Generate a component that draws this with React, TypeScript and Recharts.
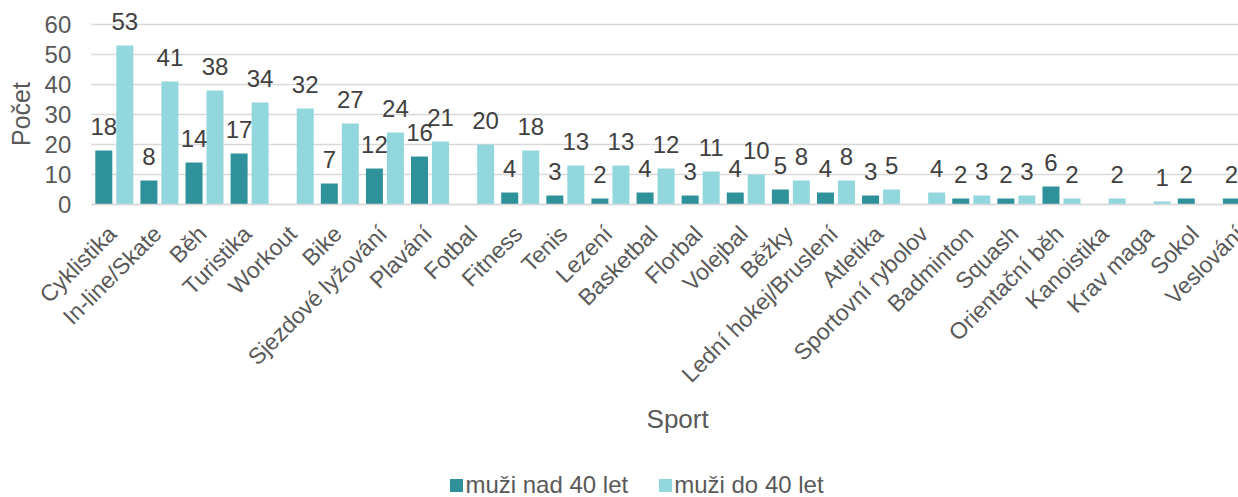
import React from 'react';
import { BarChart, Bar, XAxis, YAxis, CartesianGrid, Legend, LabelList, Label } from 'recharts';

const categories = [
  'Cyklistika', 'In-line/Skate', 'Běh', 'Turistika', 'Workout', 'Bike', 'Sjezdové lyžování', 'Plavání',
  'Fotbal', 'Fitness', 'Tenis', 'Lezení', 'Basketbal', 'Florbal', 'Volejbal', 'Běžky',
  'Lední hokej/Bruslení', 'Atletika', 'Sportovní rybolov', 'Badminton', 'Squash', 'Orientační běh',
  'Kanoistika', 'Krav maga', 'Sokol', 'Veslování',
];

// muži nad 40 let (null = no bar)
const over40 = [18, 8, 14, 17, null, 7, 12, 16, null, 4, 3, 2, 4, 3, 4, 5, 4, 3, null, 2, 2, 6, null, null, 2, 2];
// muži do 40 let
const under40 = [53, 41, 38, 34, 32, 27, 24, 21, 20, 18, 13, 13, 12, 11, 10, 8, 8, 5, 4, 3, 3, 2, 2, 1, null, null];

const yTicks = [0, 10, 20, 30, 40, 50, 60];

const series = [
  { key: 'over40', name: 'muži nad 40 let', color: '#2f9199' },
  { key: 'under40', name: 'muži do 40 let', color: '#93d7de' },
];

const data = categories.map((sport, i) => ({ sport, over40: over40[i], under40: under40[i] }));

const FONT = '"Liberation Sans", Arial, sans-serif';
const TEXT = '#595959';

const CategoryTick = (props: any) => {
  const { x, y, payload } = props;
  return (
    <g transform={`translate(${x + 4},${y + 23}) rotate(-45)`}>
      <text x={0} y={0} textAnchor="end" fill={TEXT} fontSize={23} fontFamily={FONT}>
        {payload.value}
      </text>
    </g>
  );
};

const ValueLabel = (props: any) => {
  const { x, y, width, value } = props;
  if (!value) return null;
  return (
    <text x={x + width / 2} y={y - 16} textAnchor="middle" fill="#404040" fontSize={24} fontFamily={FONT}>
      {value}
    </text>
  );
};

const LegendBox = () => (
  <div style={{ display: 'flex', justifyContent: 'center', alignItems: 'center', gap: 31, fontFamily: FONT, fontSize: 24, color: TEXT, height: 40, paddingLeft: 10 }}>
    {series.map((s) => (
      <div key={s.key} style={{ display: 'flex', alignItems: 'center', gap: 2 }}>
        <span style={{ width: 13, height: 13, background: s.color, display: 'inline-block' }} />
        <span>{s.name}</span>
      </div>
    ))}
  </div>
);

export default function App() {
  return (
    <div style={{ position: 'absolute', left: 0, top: 0, width: 1238, height: 497, overflow: 'hidden', background: '#fff' }}>
      <BarChart
        width={1274}
        height={497}
        data={data}
        margin={{ top: 24.6, right: 10, left: 0, bottom: 0 }}
        barCategoryGap={4}
        barGap={4}
      >
        <CartesianGrid vertical={false} stroke="#d9d9d9" strokeWidth={1.5} />
        <XAxis
          dataKey="sport"
          interval={0}
          height={252.5}
          tickLine={false}
          axisLine={{ stroke: '#d9d9d9', strokeWidth: 1.5 }}
          tick={<CategoryTick />}
        >
          <Label value="Sport" position="insideBottom" offset={29} fill={TEXT} fontSize={26} fontFamily={FONT} />
        </XAxis>
        <YAxis
          width={91.3}
          domain={[0, 60]}
          ticks={yTicks}
          interval={0}
          tickLine={false}
          axisLine={false}
          tickMargin={14}
          tick={{ fill: TEXT, fontSize: 24, fontFamily: FONT }}
        >
          <Label
            content={() => (
              <text x={0} y={0} transform="translate(30,114) rotate(-90)" textAnchor="middle" fill={TEXT} fontSize={25} fontFamily={FONT}>
                Počet
              </text>
            )}
          />
        </YAxis>
        <Legend verticalAlign="bottom" height={40} content={<LegendBox />} wrapperStyle={{ bottom: -8 }} />
        {series.map((s) => (
          <Bar key={s.key} dataKey={s.key} name={s.name} fill={s.color} isAnimationActive={false}>
            <LabelList dataKey={s.key} content={<ValueLabel />} />
          </Bar>
        ))}
      </BarChart>
    </div>
  );
}
